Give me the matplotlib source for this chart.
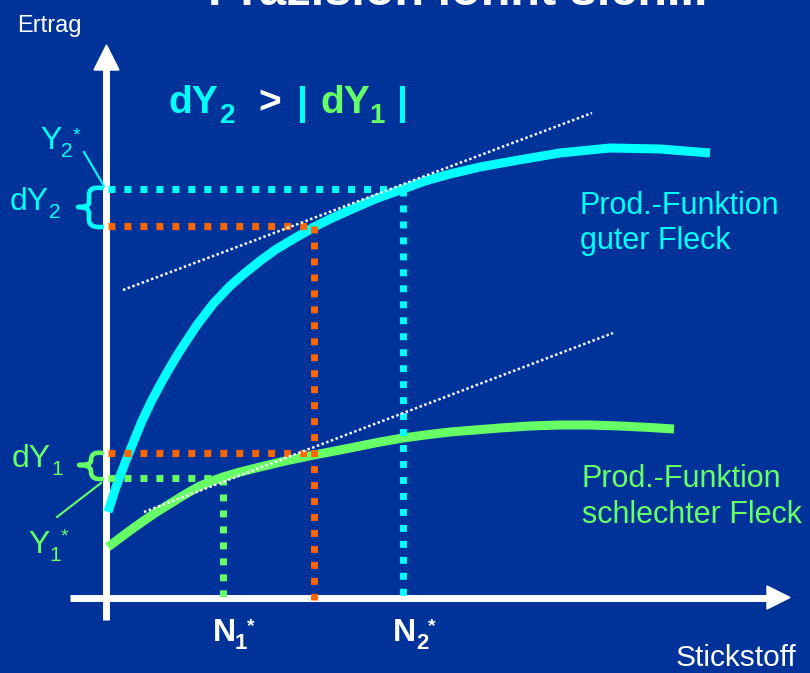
import matplotlib
matplotlib.use("Agg")
import matplotlib.pyplot as plt
from matplotlib.path import Path
from matplotlib.patches import PathPatch

plt.rcParams['font.family'] = ['Liberation Sans', 'DejaVu Sans']

BG = "#003399"
CYAN = "#00FFFF"
GREEN = "#66FF66"
ORANGE = "#FF6600"

gut_x = [108, 116, 125, 133, 142, 151, 160, 169, 178, 187, 197, 213, 230, 245, 260, 275,
         290, 314, 330, 350, 375, 403, 425, 450, 480, 513, 560, 610, 660, 710]
gut_y = [512, 487, 463, 443, 421, 402, 385, 369, 354, 340, 325, 304, 286, 273, 261, 250,
         241, 227, 219, 210, 199, 189, 181, 174, 167, 161, 153, 148, 149, 153]

schlecht_x = [108, 120, 130, 142, 155, 168, 180, 190, 200, 212, 223, 240, 260, 285, 314,
              340, 360, 380, 403, 425, 450, 475, 500, 530, 559, 590, 620, 650, 674]
schlecht_y = [547, 538, 530.5, 522, 513, 505, 497.5, 491.5, 486, 481, 477, 472, 467, 461, 455,
              450, 446, 442, 438, 435, 432, 430, 428, 426, 425, 425, 426, 427.5, 429]

# Tangenten
tang_oben_x = [123, 592]
tang_oben_y = [290, 113]
tang_unten_x = [144, 613]
tang_unten_y = [512, 333]

# Markierte Punkte
x0 = 108          # y-Achse
y0 = 597          # x-Achse
N1, Nm, N2 = 223, 314, 403
Y2s, Y2m = 189, 226
Y1m, Y1s = 453, 478

fig = plt.figure(figsize=(8.1, 6.73), dpi=100)
fig.patch.set_facecolor(BG)
ax = fig.add_axes([0, 0, 1, 1])
ax.set_facecolor(BG)
ax.set_xlim(0, 810)
ax.set_ylim(673, 0)
ax.axis("off")

# Achsen mit Pfeilen
ax.plot([106, 106], [620, 62], color="white", lw=5, solid_capstyle="butt", zorder=1)
ax.fill([94, 119, 106.5], [70, 70, 45], color="white", zorder=1)
ax.plot([70, 770], [597.5, 597.5], color="white", lw=5, solid_capstyle="butt", zorder=1)
ax.fill([767, 767, 790], [586, 609, 597.5], color="white", zorder=1)

# Produktionsfunktionen
ax.plot(gut_x, gut_y, color=CYAN, lw=6.5, solid_capstyle="butt", solid_joinstyle="round", zorder=2)
ax.plot(schlecht_x, schlecht_y, color=GREEN, lw=6.5, solid_capstyle="butt", solid_joinstyle="round", zorder=2)

# gepunktete Hilfslinien
dots = (0, (1, 1.3))
ax.plot([x0, N2], [Y2s, Y2s], color=CYAN, lw=5, ls=dots, zorder=3)
ax.plot([N2, N2], [Y2s, y0 + 3], color=CYAN, lw=5, ls=dots, zorder=3)
ax.plot([x0, Nm], [Y2m, Y2m], color=ORANGE, lw=5, ls=dots, zorder=3)
ax.plot([x0, Nm], [Y1m, Y1m], color=ORANGE, lw=5, ls=dots, zorder=3)
ax.plot([Nm, Nm], [Y2m, y0 + 3], color=ORANGE, lw=5, ls=dots, zorder=3)
ax.plot([x0, N1], [Y1s, Y1s], color=GREEN, lw=5, ls=dots, zorder=3)
ax.plot([N1, N1], [Y1s, y0 + 3], color=GREEN, lw=5, ls=dots, zorder=3)

# Tangenten
ax.plot(tang_oben_x, tang_oben_y, color="white", lw=1.8, ls=(0, (1, 1)), zorder=4)
ax.plot(tang_unten_x, tang_unten_y, color="white", lw=1.8, ls=(0, (1, 1)), zorder=4)

# Klammern
def klammer(top, mid, bot, xr, xv, xt, color):
    verts = [(xr, top), (xv, top - 2), (xv, top + 7), (xv, mid - 4),
             (xv, mid), (xt, mid), (xv, mid), (xv, mid + 6), (xv, bot - 7),
             (xv, bot + 1), (xr, bot)]
    codes = [Path.MOVETO, Path.CURVE3, Path.CURVE3, Path.LINETO,
             Path.CURVE3, Path.CURVE3, Path.CURVE3, Path.CURVE3, Path.LINETO,
             Path.CURVE3, Path.CURVE3]
    ax.add_patch(PathPatch(Path(verts, codes), fill=False, edgecolor=color,
                           lw=3.3, capstyle="round", joinstyle="round", zorder=4))

klammer(188, 207, 227, 102, 89, 78, CYAN)
klammer(453, 465, 479, 102, 91, 79, GREEN)

# Hinweislinien
ax.plot([84, 104], [152, 186], color=CYAN, lw=1.5, zorder=4)
ax.plot([57, 101], [517, 483], color=GREEN, lw=1.5, zorder=4)

def t(x, y, s, color, size, weight="normal", **kw):
    ax.text(x, y, s, color=color, fontsize=size, fontweight=weight,
            ha="left", va="baseline", zorder=5, **kw)

# Titel (oben abgeschnitten, wie im Original)
t(208, 5, "Präzision lohnt sich...", "white", 35, "bold")

t(17, 32, "Ertrag", "white", 17)
t(676, 666, "Stickstoff", "white", 21.5)

# dY2 > | dY1 |
t(168, 113, "dY", CYAN, 28, "bold")
t(220, 123, "2", CYAN, 20, "bold")
t(258, 113, ">", "white", 28, "bold")
t(297, 114, "|", CYAN, 28, "bold")
t(320, 113, "dY", GREEN, 28, "bold")
t(369, 123, "1", GREEN, 20, "bold")
t(397, 114, "|", CYAN, 28, "bold")

# Achsenbeschriftungen links
t(40, 149, "Y", CYAN, 23)
t(61, 157, "2", CYAN, 15)
t(73, 140, "*", CYAN, 14)
t(10, 210, "dY", CYAN, 23)
t(49, 218, "2", CYAN, 15)

t(12, 467, "dY", GREEN, 23)
t(51, 475, "1", GREEN, 15)
t(28, 553, "Y", GREEN, 23)
t(49, 561, "1", GREEN, 15)
t(61, 541, "*", GREEN, 14)

# N-Werte
t(213, 641, "N", "white", 23, "bold")
t(235, 649, "1", "white", 16, "bold")
t(247, 631, "*", "white", 14, "bold")
t(393, 641, "N", "white", 23, "bold")
t(416, 649, "2", "white", 16, "bold")
t(428, 631, "*", "white", 14, "bold")

# Kurvenbeschriftungen
t(580, 214, "Prod.-Funktion", CYAN, 22)
t(580, 249, "guter Fleck", CYAN, 22)
t(582, 487, "Prod.-Funktion", GREEN, 22)
t(582, 523, "schlechter Fleck", GREEN, 22)

fig.savefig("out.png", dpi=100, facecolor=BG)
